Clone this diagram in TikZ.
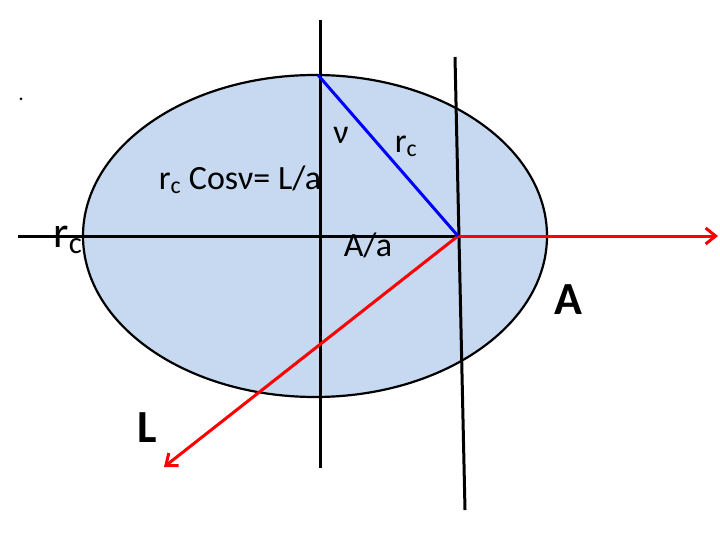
\documentclass[tikz,border=0pt]{standalone}
\usepackage{fontspec}
\setmainfont{Carlito}
\usetikzlibrary{arrows.meta}
\definecolor{ellfill}{RGB}{198,217,240}
\begin{document}
\begin{tikzpicture}[x=1pt,y=-1pt, line width=3pt]
      \useasboundingbox (0,0) rectangle (720,540);
      \fill[ellfill, draw=black, line width=2.2pt] (315,236) ellipse [x radius=232, y radius=161];
      \fill (21,99) circle (1.5);

      \coordinate (O) at (458,236);
      \coordinate (top) at (318,75);
      \draw (320,20) -- (320,468);
      \draw (455,57) -- (465,510);
      \draw (18,236) -- (O);

      \draw[-{Straight Barb[length=10pt,width=16pt]}, red] (O) -- (718,236);
      \draw[-{Straight Barb[length=10pt,width=16pt]}, red] (O) -- (164,467);
      \draw[blue] (top) -- (O);

      \node[font=\fontsize{44}{46}\selectfont] (rc) at (68,240) {r\textsubscript{c}};
      \node[font=\fontsize{34}{36}\selectfont] (eq) at (240,180) {r\textsubscript{c} Cosν= L/a};
      \node[font=\fontsize{34}{36}\selectfont] (nu) at (341,135) {ν};
      \node[font=\fontsize{34}{36}\selectfont] (rc2) at (406,146) {r\textsubscript{c}};
      \node[font=\fontsize{34}{36}\selectfont] (Aa) at (368,245) {A/a};
      \node[font=\bfseries\fontsize{46}{48}\selectfont] (A) at (568,300) {A};
      \node[font=\bfseries\fontsize{46}{48}\selectfont] (L) at (147,428) {L};
    \end{tikzpicture}
\end{document}
